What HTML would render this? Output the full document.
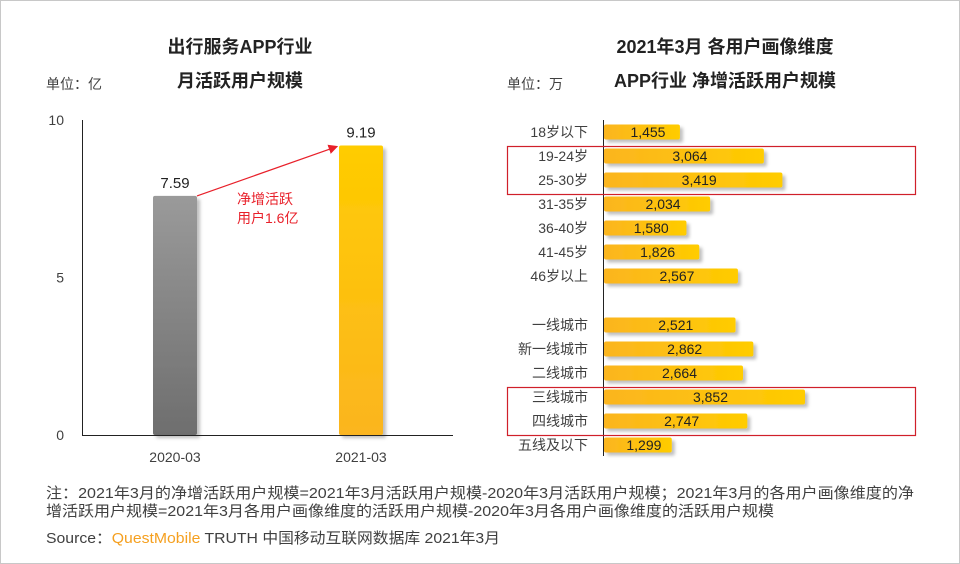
<!DOCTYPE html>
<html><head><meta charset="utf-8">
<style>
html,body{margin:0;padding:0;background:#fff;}
body{width:960px;height:564px;overflow:hidden;position:relative;font-family:"Liberation Sans","Noto Sans CJK SC",sans-serif;}
#frame{position:absolute;left:0;top:0;width:958px;height:562px;border:1px solid #c8c8c8;}
.t{position:absolute;color:#404040;white-space:nowrap;}
</style></head>
<body>
<div id="frame"></div>
<svg id="chart" width="960" height="564" style="position:absolute;left:0;top:0">
<defs>
<linearGradient id="gGray" x1="0" y1="0" x2="0" y2="1"><stop offset="0" stop-color="#9a9a9a"/><stop offset="1" stop-color="#6e6e6e"/></linearGradient>
<linearGradient id="gYel" x1="0" y1="0" x2="0" y2="1"><stop offset="0" stop-color="#ffcc00"/><stop offset="1" stop-color="#fbb520"/></linearGradient>
<linearGradient id="gH" x1="0" y1="0" x2="1" y2="0"><stop offset="0" stop-color="#fbb520"/><stop offset="1" stop-color="#ffcc00"/></linearGradient>
<filter id="sh" x="-20%" y="-20%" width="150%" height="160%"><feDropShadow dx="3" dy="3" stdDeviation="1.5" flood-color="#000" flood-opacity="0.25"/></filter>
<marker id="arr" markerWidth="8" markerHeight="8" refX="7" refY="4" orient="auto"><path d="M0,0 L8,4 L0,8 z" fill="#e8202a"/></marker>
</defs>
<g id="left"></g>
<g id="right"></g>
<g font-size="15" fill="#404040">
<text x="46" y="498" textLength="868" lengthAdjust="spacingAndGlyphs">注：2021年3月的净增活跃用户规模=2021年3月活跃用户规模-2020年3月活跃用户规模；2021年3月的各用户画像维度的净</text>
<text x="46" y="516" textLength="728" lengthAdjust="spacingAndGlyphs">增活跃用户规模=2021年3月各用户画像维度的活跃用户规模-2020年3月各用户画像维度的活跃用户规模</text>
<text x="46" y="543" textLength="454" lengthAdjust="spacingAndGlyphs">Source：<tspan fill="#f5a020">QuestMobile</tspan> TRUTH 中国移动互联网数据库 2021年3月</text>
</g>
</svg>
<div class="t" style="left:140px;top:33px;font-size:18px;font-weight:bold;color:#222;width:200px;text-align:center">出行服务APP行业</div>
<div class="t" style="left:140px;top:67px;font-size:18px;font-weight:bold;color:#222;width:200px;text-align:center">月活跃用户规模</div>
<div class="t" style="left:46px;top:74px;font-size:14px">单位：亿</div>
<div class="t" style="left:590px;top:33px;font-size:18px;font-weight:bold;color:#222;width:270px;text-align:center">2021年3月 各用户画像维度</div>
<div class="t" style="left:590px;top:67px;font-size:18px;font-weight:bold;color:#222;width:270px;text-align:center">APP行业 净增活跃用户规模</div>
<div class="t" style="left:507px;top:74px;font-size:14px">单位：万</div>
<script>
const leftCats=["2020-03","2021-03"];
const leftVals=[7.59,9.19];
const leftTicks=[0,5,10];
const rightCats=["18岁以下","19-24岁","25-30岁","31-35岁","36-40岁","41-45岁","46岁以上","","一线城市","新一线城市","二线城市","三线城市","四线城市","五线及以下"];
const rightVals=[1455,3064,3419,2034,1580,1826,2567,null,2521,2862,2664,3852,2747,1299];
const NS="http://www.w3.org/2000/svg";
function mk(p,tag,a){const e=document.createElementNS(NS,tag);for(const k in a)e.setAttribute(k,a[k]);p.appendChild(e);return e;}
const L=document.getElementById('left');
const yL=v=>435-v*31.5;
const xL=i=>175+i*186;
leftTicks.forEach(t=>{const e=mk(L,'text',{x:64,y:yL(t)+5,'text-anchor':'end','font-size':14,fill:'#404040'});e.textContent=t;

});
leftVals.forEach((v,i)=>{
 const r=mk(L,'rect',{x:xL(i)-22,y:yL(v),width:44,height:435-yL(v),rx:2,fill:i?'url(#gYel)':'url(#gGray)',filter:'url(#sh)'});
 
 
 const t=mk(L,'text',{x:xL(i),y:yL(v)-8,'text-anchor':'middle','font-size':15,fill:'#222'});t.textContent=v.toFixed(2);
 
 
 const c=mk(L,'text',{x:xL(i),y:462,'text-anchor':'middle','font-size':14,fill:'#404040'});c.textContent=leftCats[i];
 
 
});
const ax=mk(L,'path',{d:'M82.5,120 V435.5 H453',stroke:'#222','stroke-width':1,fill:'none'});


const ar=mk(L,'line',{x1:xL(0)+22,y1:yL(leftVals[0]),x2:xL(1)-24,y2:yL(leftVals[1])+1,stroke:'#e8202a','stroke-width':1.2,'marker-end':'url(#arr)'});


[['净增活跃',204],['用户1.6亿',223]].forEach(([s,y])=>{const t=mk(L,'text',{x:237,y:y,'font-size':14,fill:'#e8202a'});t.textContent=s;

});
const R=document.getElementById('right');
const x0=604,sc=201/3852;
const yR=i=>i<7?132+i*24:325+(i-8)*24;
rightVals.forEach((v,i)=>{
 if(v===null)return;
 const y=yR(i);
 const r=mk(R,'rect',{x:x0,y:y-7.5,width:v*sc,height:15,rx:2,fill:'url(#gH)',filter:'url(#sh)'});
 
 
 const t=mk(R,'text',{x:x0+v*sc/2+6,y:y+5,'text-anchor':'middle','font-size':14,fill:'#222'});t.textContent=v.toLocaleString('en-US');
 
 
 const c=mk(R,'text',{x:588,y:y+5,'text-anchor':'end','font-size':14,fill:'#404040'});c.textContent=rightCats[i];
 
 
});
const ra=mk(R,'line',{x1:603.5,y1:120,x2:603.5,y2:456,stroke:'#222','stroke-width':1});


[[146,194],[387,435]].forEach(([a,b])=>{const h=mk(R,'rect',{x:507.5,y:a+0.5,width:408,height:b-a,fill:'none',stroke:'#d0202a','stroke-width':1.2});

});
</script>
</body></html>
